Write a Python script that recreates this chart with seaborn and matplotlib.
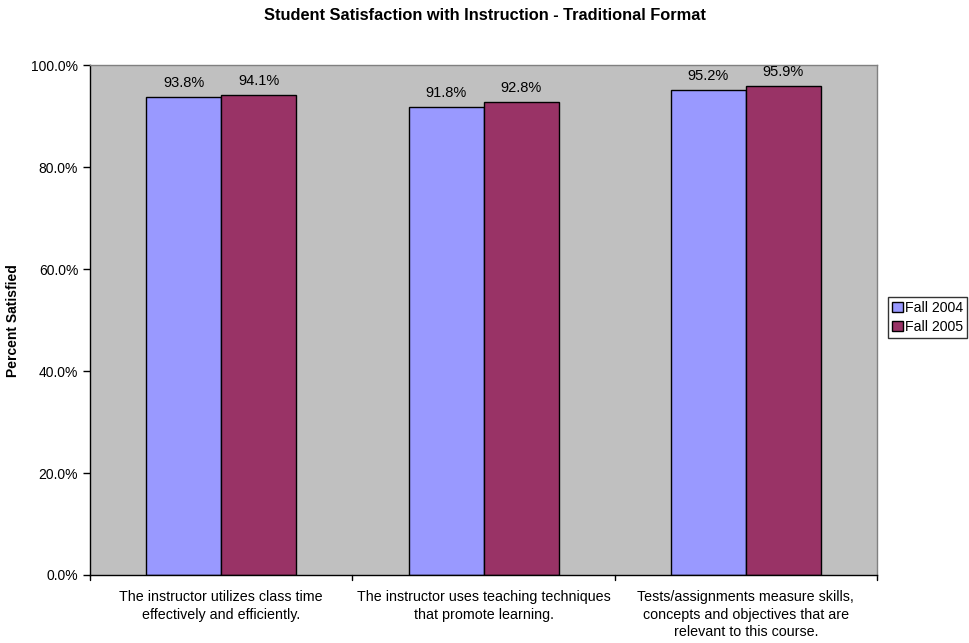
import matplotlib
matplotlib.use("Agg")
import matplotlib.pyplot as plt
import seaborn as sns
import pandas as pd
from matplotlib.ticker import FuncFormatter, MultipleLocator

# Survey items and satisfaction rates (percent)
categories = [
    "The instructor utilizes class time\neffectively and efficiently.",
    "The instructor uses teaching techniques\nthat promote learning.",
    "Tests/assignments measure skills,\nconcepts and objectives that are\nrelevant to this course.",
]
series_names = ["Fall 2004", "Fall 2005"]
fall_2004 = [93.8, 91.8, 95.2]
fall_2005 = [94.1, 92.8, 95.9]

df = pd.DataFrame({
    "item": categories * 2,
    "term": [series_names[0]] * 3 + [series_names[1]] * 3,
    "pct": fall_2004 + fall_2005,
})

sns.set_theme(style="white")
plt.rcParams["font.family"] = ["Liberation Sans", "DejaVu Sans"]
plt.rcParams["text.color"] = "black"
plt.rcParams["axes.labelcolor"] = "black"
plt.rcParams["xtick.color"] = "black"
plt.rcParams["ytick.color"] = "black"

fig = plt.figure(figsize=(9.69, 6.43), dpi=100)
ax = fig.add_axes([0.0929, 0.1058, 0.8122, 0.7926])
ax.set_facecolor("#C0C0C0")

palette = {"Fall 2004": "#9999FF", "Fall 2005": "#993366"}
sns.barplot(data=df, x="item", y="pct", hue="term", palette=palette,
            width=0.572, edgecolor="black", linewidth=1.0, saturation=1,
            ax=ax, legend=True)

for cont in ax.containers:
    ax.bar_label(cont, fmt="%.1f%%", padding=5, fontsize=10.5, color="black")

ax.set_ylim(0, 100)
ax.set_xlim(-0.5, 2.5)
ax.yaxis.set_major_locator(MultipleLocator(20))
ax.yaxis.set_major_formatter(FuncFormatter(lambda v, p: f"{v:.1f}%"))
ax.set_xticks([0, 1, 2])
ax.set_xticklabels(categories, fontsize=10.3, linespacing=1.3)
ax.tick_params(axis="x", length=0, pad=11)
ax.tick_params(axis="y", length=5, width=1, direction="out", labelsize=10, left=True)

# category boundary ticks on the x axis
for xb in [-0.5, 0.5, 1.5, 2.5]:
    ax.plot([xb, xb], [0, -1.0], color="black", lw=1, clip_on=False)

for side in ["top", "right"]:
    ax.spines[side].set_color("#808080")
    ax.spines[side].set_linewidth(1)
for side in ["left", "bottom"]:
    ax.spines[side].set_color("black")
    ax.spines[side].set_linewidth(1)

ax.set_xlabel("")
ax.set_ylabel("Percent Satisfied", fontsize=10, fontweight="bold", labelpad=8)

leg = ax.legend(loc="upper left", bbox_to_anchor=(888 / 969, (643 - 297) / 643),
                bbox_transform=fig.transFigure, frameon=True, fontsize=10.2,
                handlelength=0.75, handleheight=0.75, handletextpad=0.15,
                borderpad=0.3, borderaxespad=0, labelspacing=0.35, fancybox=False)
leg.get_frame().set_edgecolor("black")
leg.get_frame().set_linewidth(1)
for h in leg.legend_handles:
    h.set_edgecolor("black")
    h.set_linewidth(1)

fig.suptitle("Student Satisfaction with Instruction - Traditional Format",
             x=0.5, y=0.988, fontsize=11.8, fontweight="bold")

fig.savefig("out.png", dpi=100, facecolor="white")
